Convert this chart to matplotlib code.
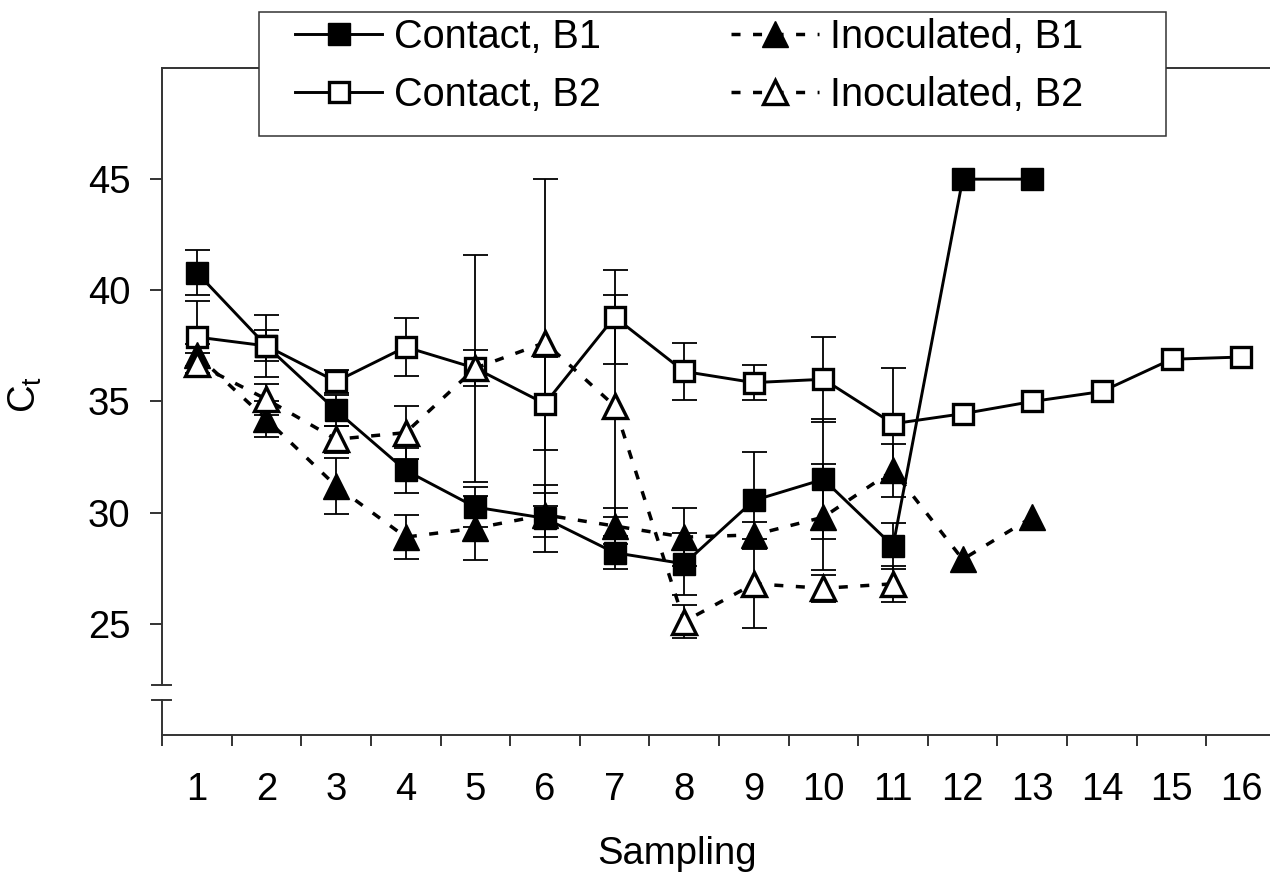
import matplotlib
matplotlib.use("Agg")
import matplotlib.pyplot as plt
from matplotlib.patches import Rectangle
import numpy as np

plt.rcParams['font.family'] = ['Liberation Sans', 'DejaVu Sans']

# data (Ct per sampling)
sampling = list(range(1, 17))
contact_b1 = [40.8, 37.5, 34.6, 31.9, 30.25, 29.75, 28.2, 27.7, 30.55, 31.5, 28.5, 45.0, 45.0]
contact_b1_err = [1.0, 1.4, 0.7, 1.0, 0.9, 1.5, 0.75, 1.4, 2.2, 2.7, 1.05]
contact_b2 = [37.9, 37.5, 35.9, 37.45, 36.5, 34.9, 38.8, 36.35, 35.85, 36.0, 34.0,
              34.45, 35.0, 35.45, 36.9, 37.0]
contact_b2_err = [1.6, 0.7, 0.5, 1.3, 0.8, 2.1, 2.1, 1.3, 0.8, 1.9, 2.5]
inoc_b1 = [37.1, 34.2, 31.2, 28.9, 29.3, 29.9, 29.4, 28.9, 29.0, 29.8, 31.9, 27.9, 29.8]
inoc_b1_err = [0.5, 0.8, 1.25, 1.0, 1.45, 1.0, 0.8, 1.3, 0.6, 2.4, 1.2]
inoc_b2 = [36.7, 35.1, 33.3, 33.6, 36.5, 37.65, 34.8, 25.1, 26.8, 26.6, 26.8]
inoc_b2_err = [0.5, 0.7, 0.6, 1.2, 5.1, 7.35, 5.0, 0.75, 2.0, 0.6, 0.8]

yticks = [25, 30, 35, 40, 45]

W, H = 1270, 877
fig = plt.figure(figsize=(W / 100, H / 100), dpi=100)
ax = fig.add_axes([162 / W, (H - 735) / H, 1114 / W, (735 - 68) / H])

axis_col = '#333333'
dash = (0, (2.6, 3.6))

def series(y, err, ls, face, ms, marker, mew, label):
    x = sampling[:len(y)]
    xe = sampling[:len(err)]
    ax.errorbar(xe, y[:len(err)], yerr=err, fmt='none', ecolor='black',
                elinewidth=1.3, capsize=9, capthick=1.3, zorder=2)
    ln, = ax.plot(x, y, color='black', lw=2.1 if ls == '-' else 2.5, linestyle=ls,
                  marker=marker, markersize=ms, markerfacecolor=face,
                  markeredgecolor='black', markeredgewidth=mew, label=label, zorder=3)
    return ln

h1 = series(contact_b1, contact_b1_err, '-', 'black', 16.5, 's', 1.0, 'Contact, B1')
h2 = series(contact_b2, contact_b2_err, '-', 'white', 15.0, 's', 2.4, 'Contact, B2')
h3 = series(inoc_b1, inoc_b1_err, dash, 'black', 19, '^', 1.0, 'Inoculated, B1')
h4 = series(inoc_b2, inoc_b2_err, dash, 'white', 17, '^', 2.4, 'Inoculated, B2')

ax.set_xlim(0.5, 16.5)
ax.set_ylim(20, 50)

ax.set_xticks(np.arange(0.5, 17, 1))
ax.set_xticklabels([])
ax.set_xticks(sampling, minor=True)
ax.set_xticklabels([str(s) for s in sampling], minor=True)
ax.tick_params(axis='x', which='major', direction='out', length=8, width=1.4, color=axis_col)
ax.tick_params(axis='x', which='minor', length=0, pad=27, labelsize=27.5)
ax.set_yticks(yticks)
ax.tick_params(axis='y', direction='out', length=8.6, width=1.4, color=axis_col,
               pad=14, labelsize=27.5)

for s in ['top', 'bottom', 'left']:
    ax.spines[s].set_color(axis_col)
    ax.spines[s].set_linewidth(1.4)
ax.spines['right'].set_visible(False)

# broken y axis near the bottom
b_hi, b_lo = 22.24, 21.56
ax.spines['left'].set_bounds(b_hi, 50)
tr = ax.get_yaxis_transform()
ax.plot([0, 0], [20, b_lo], transform=tr, color=axis_col, lw=1.4, clip_on=False)
for yb in (b_hi, b_lo):
    ax.plot([-0.009, 0.008], [yb, yb], transform=tr, color=axis_col, lw=1.4, clip_on=False)

ax.set_xlabel('Sampling', fontsize=27.5)
ax.xaxis.set_label_coords(0.4623, -0.151)
ax.set_ylabel(r'C$_{\mathregular{t}}$', fontsize=27.5)
ax.yaxis.set_label_coords(-0.106, 0.51)

# legend box sitting over the top of the plot frame
fig.add_artist(Rectangle((259 / W, 1 - 136 / H), 907 / W, 124 / H, transform=fig.transFigure,
                         facecolor='white', edgecolor=axis_col, lw=1.1, zorder=2))
fig.legend([h1, h2, h3, h4], ['Contact, B1', 'Contact, B2', 'Inoculated, B1', 'Inoculated, B2'],
           ncol=2, loc='upper left', bbox_to_anchor=(295 / W, 1 - 18 / H), frameon=False,
           borderpad=0, borderaxespad=0, handlelength=2.2, handletextpad=0.3,
           columnspacing=3.3, labelspacing=0.5, fontsize=28.5)

fig.savefig('out.png', dpi=100)
